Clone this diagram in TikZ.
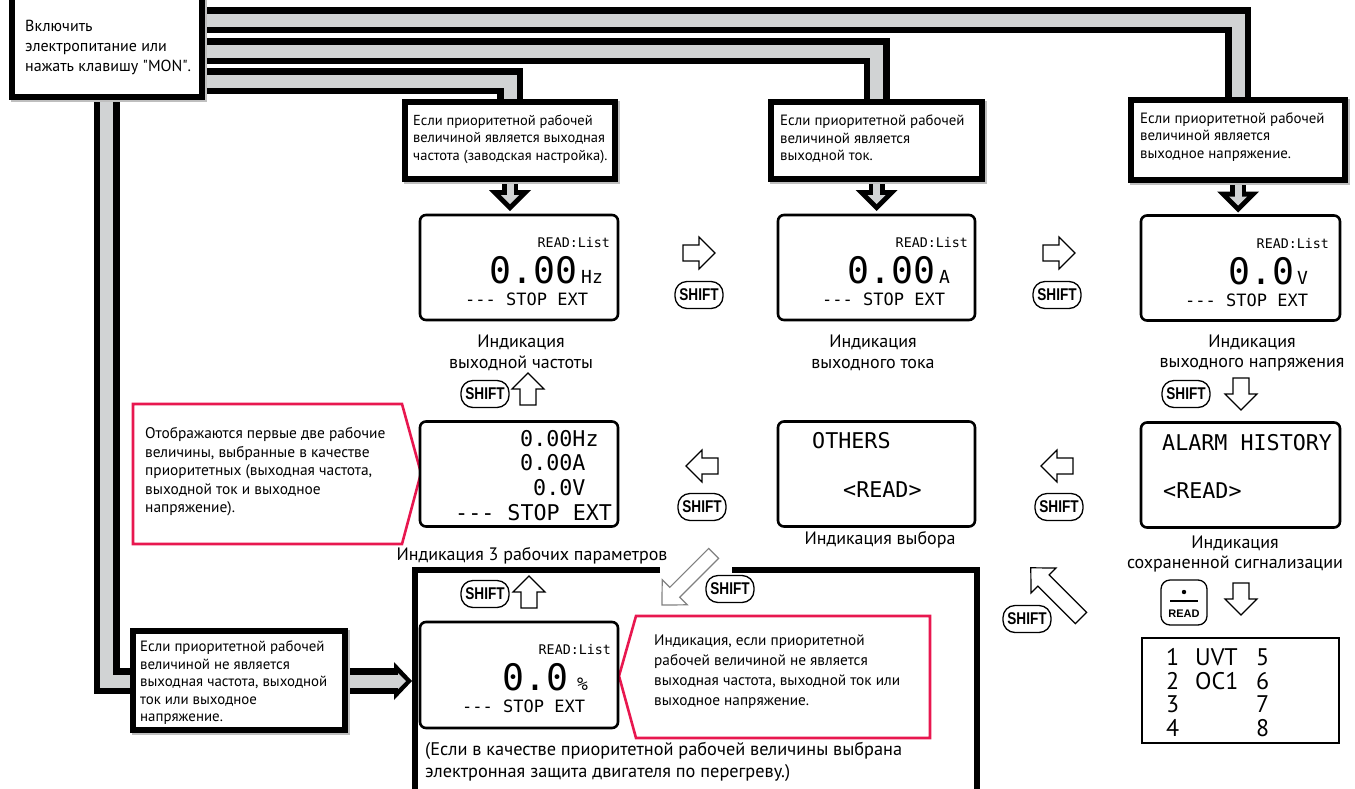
\documentclass[tikz,border=0pt]{standalone}
\usepackage{fontspec}
\usepackage{graphicx}
\setmainfont{PT Sans}
\setmonofont{DejaVu Sans Mono}
\newfontfamily\keyfont{Liberation Sans}
\newfontfamily\ptplain{PT Sans}
\usetikzlibrary{backgrounds,calc}
\definecolor{pipegray}{RGB}{209,211,212}
\definecolor{pinkc}{RGB}{232,23,79}
\definecolor{arrgray}{RGB}{128,128,128}
\newcommand{\fs}[2]{\fontsize{#1}{#2}\selectfont}
\newcommand{\harrow}[3][]{\draw[hollow,#1,shift={#2},rotate=#3] (0,-8) -- (16,-8) -- (16,-16) -- (32,0) -- (16,16) -- (16,8) -- (0,8) -- cycle;}
\tikzset{
  condbox/.style={draw=black, line width=6pt, fill=white, inner sep=0pt,
    preaction={draw=black!25, line width=6pt, transform canvas={shift={(2,2)}}}},
  lcd/.style={draw=black, line width=2.6pt, rounded corners=6pt, fill=white, inner sep=0pt},
  txt/.style={inner sep=0pt, align=left, anchor=west, font=\fs{14.9}{17.5}},
  lbl/.style={inner sep=0pt, align=center, font=\fs{18}{20.5}},
  lcdsmall/.style={inner sep=0pt, font=\ttfamily\fs{13.3}{14}},
  lcdbig/.style={inner sep=0pt, font=\ttfamily\fs{36.5}{37}},
  lcdunit/.style={inner sep=0pt, font=\ttfamily\fs{18}{18}},
  lcdstat/.style={inner sep=0pt, font=\ttfamily\fs{17}{17}},
  lcdmid/.style={inner sep=0pt, font=\ttfamily\fs{21.7}{24}},
  alarmtxt/.style={inner sep=0pt, align=left, anchor=north west, font=\fs{24}{23.5}},
  shiftkey/.style={draw=black, line width=1.3pt, rounded corners=12pt, minimum width=48pt, minimum height=27pt, inner sep=0pt, fill=white, font=\keyfont\bfseries\fs{17}{17}},
  hollow/.style={draw=black, line width=1.2pt, fill=white, line join=miter},
  callout/.style={draw=pinkc, line width=2.6pt, fill=white, line join=miter},
  pipeblack/.style={draw=black, line width=26pt, line join=miter},
  pipefill/.style={draw=pipegray, line width=13pt, line join=miter},
}
\begin{document}
\begin{tikzpicture}[x=1pt,y=-1pt]
\useasboundingbox (0,0) rectangle (1355,788);
\coordinate (y1) at (0,20);
\coordinate (y2) at (0,51);
\coordinate (y3) at (0,81);
\coordinate (p4end) at (394,681);

% start box
\node[condbox, minimum width=190pt, minimum height=100pt] (start) at (106.5,47) {};
\node[txt, font=\fs{16}{20}] (starttxt) at (25,47) {Включить\\электропитание или\\нажать клавишу {\ptplain"MON"}.};

% condition boxes
\node[condbox, minimum width=210pt, minimum height=77pt] (b1) at (510,140) {};
\node[condbox, minimum width=211pt, minimum height=77pt] (b2) at (876.5,140) {};
\node[condbox, minimum width=214pt, minimum height=80pt] (b3) at (1238,140) {};
\node[condbox, minimum width=212pt, minimum height=99pt] (b4) at (239,680.5) {};
\node[txt, font=\fs{14.5}{17.5}] (t1) at (413,139) {Если приоритетной рабочей\\величиной является выходная\\частота (заводская настройка).};
\node[txt] (t2) at (780,139) {Если приоритетной рабочей\\величиной является\\выходной ток.};
\node[txt] (t3) at (1140,137) {Если приоритетной рабочей\\величиной является\\выходное напряжение.};
\node[txt] (t4) at (140,683) {Если приоритетной рабочей\\величиной не является\\выходная частота, выходной\\ток или выходное\\напряжение.};

% pipes and thick arrows
\begin{scope}[on background layer]
  \draw[pipeblack] (start.east |- y1) -| (b3.north);
  \draw[pipeblack] (start.east |- y2) -| (b2.north);
  \draw[pipeblack] (start.east |- y3) -| (b1.north);
  \draw[pipeblack] (start.south) |- (p4end);
  \foreach \b in {b1,b2,b3}{
    \draw[draw=black, line width=16pt] (\b.south) -- ++(0,12);
    \fill[black] (\b.south) ++(-21,8.5) -- ++(42,0) -- ++(-21,21) -- cycle;
  }
  \fill[black] (p4end) ++(0,-19) -- ++(18,19) -- ++(-18,19) -- cycle;
  \draw[pipefill] (start.east |- y1) -| (b3.north);
  \draw[pipefill] (start.east |- y2) -| (b2.north);
  \draw[pipefill] (start.east |- y3) -| (b1.north);
  \draw[pipefill] (start.south) |- ($(p4end)+(5,0)$);
  \foreach \b in {b1,b2,b3}{
    \draw[draw=pipegray, line width=7pt] (\b.south) -- ++(0,14.5);
    \fill[pipegray] (\b.south) ++(-9,13.5) -- ++(18,0) -- ++(-9,9) -- cycle;
  }
  \fill[pipegray] (p4end) ++(4,-8) -- ++(8,8) -- ++(-8,8) -- cycle;
\end{scope}

% callouts
\draw[callout] (133,404) -- (402,404) -- (421,473) -- (402,544) -- (133,544) -- cycle;
\node[txt, font=\fs{15.4}{18.5}] (c1) at (145,472) {Отображаются первые две рабочие\\величины, выбранные в качестве\\приоритетных (выходная частота,\\выходной ток и выходное\\напряжение).};
\draw[callout] (619,676) -- (636,616) -- (930,616) -- (930,738) -- (636,738) -- cycle;
\node[txt, font=\fs{15.3}{20}] (c2) at (654,672) {Индикация, если приоритетной\\рабочей величиной не является\\выходная частота, выходной ток или\\выходное напряжение.};

% displays
\node[lcd, minimum width=198pt, minimum height=105pt] (d1) at (519,267.5) {};
\node[lcd, minimum width=197pt, minimum height=105pt] (d2) at (876.5,267.5) {};
\node[lcd, minimum width=199pt, minimum height=105pt] (d3) at (1240.5,268) {};
\node[lcd, minimum width=198pt, minimum height=105pt] (d4) at (519,474) {};
\node[lcd, minimum width=197pt, minimum height=105pt] (d5) at (876.5,474) {};
\node[lcd, minimum width=199pt, minimum height=105pt] (d6) at (1240.5,475) {};
\node[lcd, minimum width=198pt, minimum height=106pt] (d7) at (519,675) {};

\node[lcdsmall, anchor=base east] (d1a) at (610,247) {READ:List};
\node[lcdbig, anchor=base east] (d1b) at (578,283) {0.00};
\node[lcdunit, anchor=base west] (d1c) at (581,283) {Hz};
\node[lcdstat, anchor=base west] (d1d) at (465,305) {--- STOP EXT};

\node[lcdsmall, anchor=base east] (d2a) at (968,247) {READ:List};
\node[lcdbig, anchor=base east] (d2b) at (936,283) {0.00};
\node[lcdunit, anchor=base west] (d2c) at (939,283) {A};
\node[lcdstat, anchor=base west] (d2d) at (822,305) {--- STOP EXT};

\node[lcdsmall, anchor=base east] (d3a) at (1329,248) {READ:List};
\node[lcdbig, anchor=base east] (d3b) at (1295,284) {0.0};
\node[lcdunit, anchor=base west] (d3c) at (1297,284) {V};
\node[lcdstat, anchor=base west] (d3d) at (1185,306) {--- STOP EXT};

\node[lcdmid, anchor=base west] (d4a) at (520,446) {0.00Hz};
\node[lcdmid, anchor=base west] (d4b) at (520,470.5) {0.00A};
\node[lcdmid, anchor=base west] (d4c) at (533,495) {0.0V};
\node[lcdmid, anchor=base west] (d4d) at (455,520) {--- STOP EXT};

\node[lcdmid, anchor=base west] (d5a) at (812,448) {OTHERS};
\node[lcdmid, anchor=base west] (d5b) at (843,497) {<READ>};

\node[lcdmid, anchor=base west] (d6a) at (1162,450) {ALARM HISTORY};
\node[lcdmid, anchor=base west] (d6b) at (1163,498) {<READ>};

\node[lcdsmall, anchor=base east] (d7a) at (611,654) {READ:List};
\node[lcdbig, anchor=base east] (d7b) at (569,690) {0.0};
\node[lcdunit, anchor=base west] (d7c) at (577,690) {\%};
\node[lcdstat, anchor=base west] (d7d) at (462,712) {--- STOP EXT};

% labels
\node[lbl] (l1) at (521,353) {Индикация\\выходной частоты};
\node[lbl] (l2) at (873,353) {Индикация\\выходного тока};
\node[lbl] (l3) at (1252,353) {Индикация\\выходного напряжения};
\node[lbl] (l4) at (880,540) {Индикация выбора};
\node[lbl] (l5) at (532,556) {Индикация 3 рабочих параметров};
\node[lbl] (l6) at (1235,554) {Индикация\\сохраненной сигнализации};

% frame
\draw[line width=6pt] (660,569.5) -- (415,569.5) -- (415,800);
\draw[line width=6pt] (732,569.5) -- (976.5,569.5) -- (976.5,800);

% shift keys
\node[shiftkey] (s1) at (699,295) {\scalebox{0.8}[1]{SHIFT}};
\node[shiftkey] (s2) at (1057,295) {\scalebox{0.8}[1]{SHIFT}};
\node[shiftkey] (s3) at (485,394) {\scalebox{0.8}[1]{SHIFT}};
\node[shiftkey] (s4) at (1186,394) {\scalebox{0.8}[1]{SHIFT}};
\node[shiftkey] (s5) at (702,507) {\scalebox{0.8}[1]{SHIFT}};
\node[shiftkey] (s6) at (1059,507) {\scalebox{0.8}[1]{SHIFT}};
\node[shiftkey] (s7) at (485,594) {\scalebox{0.8}[1]{SHIFT}};
\node[shiftkey] (s8) at (730,589) {\scalebox{0.8}[1]{SHIFT}};
\node[shiftkey] (s9) at (1027,619) {\scalebox{0.8}[1]{SHIFT}};

% hollow arrows
\harrow{(683,253)}{0}
\harrow{(1043,253)}{0}
\harrow{(528,405)}{90}
\harrow{(1241,378)}{-90}
\harrow{(718,466)}{180}
\harrow{(1073,466)}{180}
\harrow{(529,608)}{90}
\harrow{(1241,583)}{-90}
\draw[hollow, draw=arrgray, shift={(713.6,553.4)}, rotate=-135] (0,-7) -- (55,-7) -- (55,-17.7) -- (73,0) -- (55,17.7) -- (55,7) -- (0,7) -- cycle;
\draw[hollow, shift={(1081,618)}, rotate=135] (0,-8) -- (53,-8) -- (53,-17.7) -- (71,0) -- (53,17.7) -- (53,8) -- (0,8) -- cycle;

% READ key
\node[draw, line width=1.3pt, rounded corners=9pt, minimum width=46pt, minimum height=45pt, inner sep=0pt] (readkey) at (1184,602.5) {};
\fill (1184,592) circle (2.2pt);
\draw[line width=1.2pt] (1170,601) -- (1198,601);
\node[font=\keyfont\bfseries\fs{11}{11}, inner sep=0pt] (readlbl) at (1184,614) {READ};

% alarm list
\node[draw, line width=1.5pt, minimum width=197pt, minimum height=105pt, inner sep=0pt] (alist) at (1240.5,690.5) {};
\node[alarmtxt] (al1) at (1166,648.5) {1\\2\\3\\4};
\node[alarmtxt] (al2) at (1195,648.5) {UVT\\OC1};
\node[alarmtxt] (al3) at (1256,648.5) {5\\6\\7\\8};

% bottom note
\node[txt, font=\fs{18.3}{22}] (note) at (425,762) {(Если в качестве приоритетной рабочей величины выбрана\\электронная защита двигателя по перегреву.)};
\end{tikzpicture}
\end{document}
